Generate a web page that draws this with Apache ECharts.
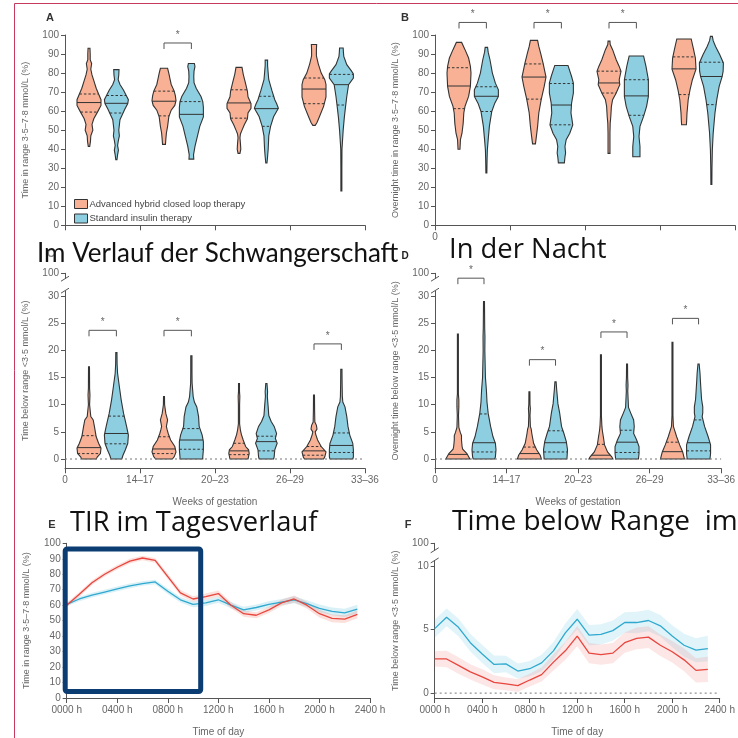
<!DOCTYPE html>
<html><head><meta charset="utf-8">
<script src="https://cdn.jsdelivr.net/npm/echarts@6/dist/echarts.min.js"></script>
<style>html,body{margin:0;padding:0;background:#fff}#c{width:738px;height:738px}</style>
</head><body><div id="c"></div>
<script>
// ---------- DATA ----------
const weekLabels = ['0','14–17','20–23','26–29','33–36'];
const groupNames = ['Advanced hybrid closed loop therapy','Standard insulin therapy'];
// violin profiles: [value, relative density]; quartiles [q1, median, q3]
const tirAHCL = [
 [[41.5,0.06],[44,0.12],[47,0.15],[50,0.32],[53,0.25],[56,0.4],[60,0.75],[63,1.0],[66,1.0],[69,0.8],[72,0.6],[76,0.4],[79,0.25],[82,0.15],[85,0.22],[87,0.1],[90,0.1],[93,0.08]],
 [[42.5,0.12],[45,0.15],[48.5,0.2],[52,0.3],[57,0.4],[60.5,0.6],[63,0.9],[65.5,1.0],[68,0.95],[70.5,0.85],[74,0.6],[77,0.5],[80,0.4],[82.5,0.3]],
 [[37.8,0.08],[40,0.15],[43,0.12],[46,0.08],[48,0.12],[50,0.25],[53,0.45],[56,0.7],[59,0.75],[61.5,1.0],[64,1.0],[67.5,0.75],[70.5,0.7],[74.5,0.55],[79.5,0.35],[83,0.25]],
 [[52.5,0.1],[54,0.25],[57,0.45],[62.5,0.8],[67.5,1.0],[74,1.0],[76.5,0.9],[80,0.6],[85,0.35],[89,0.2],[92,0.2],[95,0.22]]
];
const tirAHCLQ = [[59.5,64.5,69],[57.5,65.2,70.5],[56.3,64.3,71.2],[63.9,71.6,77.4]];
const tirStd = [
 [[34.5,0.05],[37,0.1],[39.5,0.17],[42,0.1],[45,0.18],[47,0.25],[50,0.2],[55.5,0.3],[61,0.7],[64,0.95],[66,1.0],[68.5,0.8],[71,0.6],[74,0.3],[76.5,0.15],[79,0.2],[81.8,0.22]],
 [[34.8,0.2],[37,0.18],[41.5,0.3],[46.7,0.5],[52,0.7],[57,1.0],[62,1.0],[65,0.95],[67.7,0.8],[72,0.4],[75,0.22],[78,0.2],[81,0.22],[83.5,0.3],[85,0.25]],
 [[32.7,0.05],[36,0.1],[40,0.15],[44,0.18],[47,0.2],[52,0.35],[57,0.6],[61.5,1.0],[64,0.85],[66,0.7],[71,0.45],[76.5,0.2],[80,0.15],[84,0.1],[86.8,0.1]],
 [[18,0.04],[30,0.04],[40,0.05],[43,0.08],[50,0.15],[57,0.25],[62.5,0.35],[67.7,0.45],[73.9,0.6],[77.4,1.0],[79.5,1.0],[81,0.85],[84.4,0.45],[88.8,0.2],[91,0.17],[93.2,0.15]]
];
const tirStdQ = [[59,64.1,68.2],[null,58.3,65],[52,61.3,67.8],[63.2,73.9,79.3]];

const nightTirAHCL = [
 [[40,0.08],[45,0.12],[48.4,0.25],[53.7,0.35],[59,0.4],[62.5,0.5],[67.7,0.8],[73,0.95],[80,1.0],[83.5,0.95],[87.9,0.8],[92.3,0.5],[96.1,0.22]],
 [[42.8,0.12],[46.7,0.2],[52,0.3],[59,0.4],[66,0.6],[73,0.85],[77.9,1.0],[80.9,0.9],[85.3,0.75],[90.5,0.55],[94,0.4],[97.2,0.3]],
 [[37.8,0.08],[48.4,0.08],[53.7,0.1],[57.2,0.15],[62.5,0.2],[66,0.3],[69.5,0.6],[73.9,0.9],[76.5,0.85],[80.9,1.0],[83.5,0.85],[87,0.6],[92.3,0.3],[95,0.1],[96.8,0.08]],
 [[52.8,0.2],[55,0.22],[59,0.25],[66,0.35],[71.2,0.5],[76.5,0.7],[82.1,1.0],[87.9,0.95],[92.3,0.8],[97.9,0.6]]
];
const nightTirAHCLQ = [[61.3,73.2,82.8],[66.3,77.9,84.8],[69.5,74.8,81],[68.7,82.2,88.5]];
const nightTirStd = [
 [[27.5,0.04],[32,0.05],[35,0.06],[39.6,0.08],[45,0.15],[52,0.25],[59.8,0.45],[64.2,0.7],[67.7,1.0],[71.2,1.0],[74.7,0.75],[80,0.5],[87,0.3],[91,0.15],[93.5,0.1]],
 [[32.8,0.25],[36,0.3],[38,0.35],[41.4,0.3],[45,0.4],[48.4,0.7],[52.8,0.95],[57,0.85],[59,0.8],[64.2,0.85],[69.5,1.0],[74.7,1.0],[78.2,0.85],[84,0.55]],
 [[36,0.3],[41.4,0.3],[46.7,0.22],[52,0.3],[57.2,0.6],[62.5,0.85],[67.7,1.0],[76.5,1.0],[83.5,0.8],[89,0.6]],
 [[21.5,0.04],[30,0.05],[39.6,0.08],[48.4,0.15],[59,0.3],[66,0.45],[73,0.65],[78.2,0.9],[81,0.98],[85.3,1.0],[89.6,0.7],[94,0.35],[97,0.15],[99.3,0.08]]
];
const nightTirStdQ = [[59.8,67.8,72.8],[52.8,63.2,74.5],[57.8,68,76.5],[63.4,78.2,85.7]];

const tbrAHCL = [
 [[0,0.6],[0.4,0.7],[1,0.95],[2,1.0],[2.9,0.8],[4.1,0.6],[6,0.45],[7.2,0.35],[7.8,0.15],[10,0.05],[11.8,0.08],[13,0.05],[17,0.04]],
 [[0,0.7],[0.4,0.85],[1.3,1.0],[2.3,0.9],[3.5,0.55],[4.7,0.35],[5.5,0.25],[6,0.2],[7.2,0.3],[8.4,0.15],[9.5,0.08],[10,0.05],[11.5,0.04]],
 [[0,0.75],[1,0.85],[1.7,0.8],[2.3,0.55],[3.5,0.35],[4.5,0.2],[5.3,0.12],[6.5,0.05],[10,0.05],[11.5,0.07],[12.5,0.04],[13.9,0.04]],
 [[0,0.8],[0.4,0.9],[1.3,1.0],[2.3,0.6],[3.5,0.3],[4.5,0.15],[5,0.1],[5.5,0.25],[6.2,0.2],[6.8,0.07],[9,0.05],[11.8,0.04]]
];
const tbrAHCLQ = [[1.0,2.1,4.3],[1.0,1.85,4.1],[0.8,1.5,2.9],[0.7,1.5,2.3]];
const tbrStd = [
 [[0,0.45],[0.7,0.55],[1.7,0.75],[2.9,0.95],[4.4,1.0],[6,0.85],[8.4,0.6],[10.9,0.4],[13.3,0.25],[15.8,0.1],[17.5,0.06],[19.6,0.05]],
 [[0,0.95],[0.4,0.95],[1.7,1.0],[3.2,1.0],[4.4,0.9],[6,0.65],[7.8,0.6],[9.6,0.45],[10.5,0.25],[11.5,0.15],[14,0.06],[16,0.05],[19,0.05]],
 [[0,0.6],[0.4,0.65],[1.7,0.7],[2.9,0.9],[3.8,0.75],[4.7,0.85],[6,0.65],[6.9,0.4],[8,0.2],[9.6,0.15],[11.5,0.08],[12.4,0.1],[13,0.08],[13.9,0.05]],
 [[0,0.95],[0.4,1.0],[1.7,1.0],[2.9,0.95],[4.4,0.7],[6,0.55],[7.8,0.45],[9.6,0.3],[10.5,0.12],[11.5,0.08],[14,0.06],[16.5,0.05]]
];
const tbrStdQ = [[2.8,4.7,7.9],[1.8,3.5,5.6],[1.5,3.2,4.2],[1.2,2.5,4.8]];

const nightTbrAHCL = [
 [[0,1.0],[0.4,0.9],[1,0.75],[1.8,0.4],[2.3,0.35],[3.5,0.3],[4.3,0.3],[4.9,0.2],[5.8,0.08],[8,0.05],[9.6,0.08],[10.9,0.08],[12,0.04],[23,0.04]],
 [[0,1.0],[0.7,0.9],[1.7,0.6],[2.9,0.35],[4.7,0.2],[5.5,0.15],[6,0.08],[8,0.05],[9.3,0.08],[10,0.05],[12.4,0.04]],
 [[0,1.0],[0.4,0.9],[1.3,0.55],[2.6,0.3],[4.1,0.2],[5.2,0.12],[6,0.08],[8,0.04],[19.2,0.04]],
 [[0,1.0],[1.3,0.85],[2.6,0.6],[4.1,0.35],[5.5,0.15],[6,0.08],[8,0.04],[21.5,0.04]]
];
const nightTbrAHCLQ = [[null,0.85,null],[null,1.0,2.2],[null,0.7,2.7],[null,1.35,3.1]];
const nightTbrStd = [
 [[0,0.9],[0.4,0.95],[1.7,1.0],[2.9,0.95],[4.1,0.75],[6,0.55],[8.4,0.35],[10.5,0.25],[12.7,0.2],[15,0.12],[17,0.1],[20,0.07],[22.5,0.08],[24,0.06],[29,0.04]],
 [[0,0.95],[1.7,1.0],[3.2,0.9],[4.7,0.7],[6,0.5],[8.4,0.35],[10.2,0.2],[12.7,0.1],[14.2,0.05]],
 [[0,0.95],[1,1.0],[2.3,1.0],[3.5,0.8],[4.7,0.55],[6,0.6],[7.2,0.55],[8.5,0.3],[9.5,0.12],[10.5,0.1],[12.5,0.06],[13.6,0.08],[15,0.05],[17.5,0.04]],
 [[0,0.95],[1,1.0],[2.6,1.0],[4.1,0.8],[6,0.5],[7.8,0.3],[8.5,0.35],[9.6,0.35],[11,0.25],[12.7,0.2],[14.5,0.15],[15.8,0.12],[17.5,0.05]]
];
const nightTbrStdQ = [[1.3,3.0,8.3],[1.3,3.0,5.2],[1.2,3.1,5.3],[1.5,3.0,7.2]];

// significance brackets: [group index, value]
const sigA = [[1,95.8]];
const sigB = [[0,106.6],[1,106.6],[2,106.6]];
const sigC = [[0,23.7],[1,23.7],[3,21.2]];
const sigD = [[0,33.3],[1,18.3],[2,23.4],[3,25.9]];

// time of day
const hours = [0,1,2,3,4,5,6,7,8,9,10,11,12,13,14,15,16,17,18,19,20,21,22,23];
const tirDayAHCL = [60,67,74.5,80,84.5,88.5,90.5,89,78.5,68,64,65.5,67.5,60,54.5,53.5,57,61.5,64,60,54.5,51.5,51,54];
const tirDayAHCLci = [1.5,1.5,1.5,1.5,1.5,1.5,1.5,1.5,1.8,1.8,1.8,2,2,2,2,2,2,2,2.2,2.2,2.5,2.5,2.5,2.5];
const tirDayStd = [60.5,64,66.5,68.5,70.5,72.5,74,75,69,63.5,60.5,61.5,63.5,60,57,58.5,60.5,62,63.5,61,58,56,55,57.5];
const tirDayStdci = [1.2,1.5,1.5,1.5,1.5,1.5,1.5,1.5,1.8,1.8,1.8,2,2,2,2,2,2,2,2.2,2.2,2.5,2.5,2.7,2.8];
const tbrDayAHCL = [2.69,2.69,2.18,1.67,1.28,0.85,0.72,0.59,1.03,1.46,2.44,3.33,4.49,3.15,3.03,3.15,3.97,4.31,4.41,3.77,3.26,2.62,1.79,1.87];
const tbrDayAHCLci = [0.6,0.65,0.65,0.6,0.6,0.55,0.5,0.5,0.5,0.55,0.65,0.7,0.8,0.8,0.8,0.8,0.8,0.85,0.85,0.85,0.85,0.9,0.95,1.0];
const tbrDayStd = [5.08,5.97,5.18,3.97,3.08,2.26,2.3,1.74,1.92,2.38,3.33,4.74,5.82,4.56,4.62,4.92,5.56,5.56,5.72,5.3,4.49,3.77,3.38,3.51];
const tbrDayStdci = [0.7,0.7,0.7,0.7,0.7,0.7,0.65,0.6,0.6,0.65,0.7,0.75,0.8,0.8,0.8,0.8,0.8,0.85,0.85,0.85,0.85,0.9,0.95,1.0];

// ---------- STYLE ----------
const ORANGE = '#f8b195', BLUE = '#8dcfe1', OUT = '#333';
const RED_LINE = '#e8463e', BLUE_LINE = '#2fa9cf';
const HW = 12, OFF_O = -0.18, OFF_B = 0.185;
const FONT = '"Liberation Sans", Arial, sans-serif';
const AX = '#555', LAB = '#666';

function dens(prof, v){
  if (v <= prof[0][0]) return prof[0][1];
  for (let k=1;k<prof.length;k++){
    if (v <= prof[k][0]){ const a=prof[k-1], b=prof[k]; return a[1]+(b[1]-a[1])*(v-a[0])/(b[0]-a[0]); }
  }
  return prof[prof.length-1][1];
}
function violin(name, ai, profiles, quarts, off, color){
  return {type:'custom', name, xAxisIndex:ai, yAxisIndex:ai, z:3, clip:false,
    itemStyle:{color, borderColor:OUT},
    data: profiles.map((p,i)=>[i+0.5+off, quarts[i][1]]),
    renderItem:(params, api)=>{
      const i = params.dataIndex, prof = profiles[i], cx = i+0.5+off;
      const right=[], left=[];
      prof.forEach(([v,d])=>{ const p=api.coord([cx,v]); right.push([p[0]+d*HW,p[1]]); left.unshift([p[0]-d*HW,p[1]]); });
      const ch=[{type:'polygon', shape:{points:right.concat(left)}, style:{fill:color, stroke:OUT, lineWidth:1.1}}];
      quarts[i].forEach((q,k)=>{ if(q==null) return; const d=dens(prof,q)*HW; const p=api.coord([cx,q]);
        ch.push({type:'line', shape:{x1:p[0]-d,y1:p[1],x2:p[0]+d,y2:p[1]}, style:{stroke:'#333', lineWidth:1, lineDash: k===1?null:[2.5,2]}}); });
      return {type:'group', children:ch};
    }};
}
function brackets(ai, sig){
  return {type:'custom', xAxisIndex:ai, yAxisIndex:ai, z:4, clip:false, silent:true,
    data: sig.map(s=>[s[0]+0.5, s[1]]),
    renderItem:(params, api)=>{
      const s = sig[params.dataIndex];
      const pl = api.coord([s[0]+0.5+OFF_O, s[1]]), pr = api.coord([s[0]+0.5+OFF_B, s[1]]);
      return {type:'group', children:[
        {type:'polyline', shape:{points:[[pl[0],pl[1]+6],[pl[0],pl[1]],[pr[0],pr[1]],[pr[0],pr[1]+6]]}, style:{stroke:'#555', lineWidth:1, fill:null}},
        {type:'text', style:{text:'*', x:(pl[0]+pr[0])/2, y:pl[1]-3, textAlign:'center', textVerticalAlign:'bottom', font:'10px '+FONT, fill:'#666'}}
      ]};
    }};
}
function decor(ai, xmin, xmax, b1, b2, zeroLine){
  return {type:'custom', xAxisIndex:ai, yAxisIndex:ai, z:5, clip:false, silent:true,
    data:[[xmin,0]],
    renderItem:(params, api)=>{
      const ch=[];
      if (zeroLine){ const a=api.coord([xmin,0]), b=api.coord([xmax,0]);
        ch.push({type:'line', shape:{x1:a[0],y1:a[1],x2:b[0],y2:b[1]}, style:{stroke:'#777', lineWidth:1, lineDash:[2,3]}}); }
      if (b1!=null){ const p1=api.coord([xmin,b1]), p2=api.coord([xmin,b2]);
        ch.push({type:'rect', shape:{x:p1[0]-3, y:p2[1], width:6, height:p1[1]-p2[1]}, style:{fill:'#fff'}});
        ch.push({type:'line', shape:{x1:p1[0]-4,y1:p1[1]+2.5,x2:p1[0]+4,y2:p1[1]-2.5}, style:{stroke:AX, lineWidth:1}});
        ch.push({type:'line', shape:{x1:p2[0]-4,y1:p2[1]+2.5,x2:p2[0]+4,y2:p2[1]-2.5}, style:{stroke:AX, lineWidth:1}});
      }
      return {type:'group', children:ch};
    }};
}
function band(ai, xs, ys, ci, color){
  return {type:'custom', xAxisIndex:ai, yAxisIndex:ai, z:2, silent:true,
    data:[[xs[0], ys[0]]],
    renderItem:(params, api)=>{
      const up = xs.map((x,i)=>api.coord([x, ys[i]+ci[i]]));
      const lo = xs.map((x,i)=>api.coord([x, ys[i]-ci[i]])).reverse();
      return {type:'polygon', shape:{points:up.concat(lo)}, style:{fill:color}};
    }};
}
function line(ai, xs, ys, color){
  return {type:'line', xAxisIndex:ai, yAxisIndex:ai, z:3, silent:true, symbol:'none',
    data: xs.map((x,i)=>[x, ys[i]]), lineStyle:{color, width:1.3}};
}

const axisCommon = {
  axisLine:{show:true, onZero:false, lineStyle:{color:AX, width:1}},
  axisTick:{show:true, length:4, lineStyle:{color:AX}},
  splitLine:{show:false}
};
function yAx(gi, min, max, name, extra){
  return Object.assign({type:'value', gridIndex:gi, min, max, name, nameLocation:'middle', nameGap:35, nameRotate:90,
    nameTextStyle:{fontSize:9, color:LAB, fontFamily:FONT}}, JSON.parse(JSON.stringify(axisCommon)), extra || {},
    {axisLabel:Object.assign({color:LAB, fontSize:10, fontFamily:FONT, margin:6}, (extra&&extra.axisLabel)||{})});
}
function xAx(gi, min, max, interval, labelOpt, name){
  return Object.assign({type:'value', gridIndex:gi, min, max, interval, name:name||'', nameLocation:'middle', nameGap:29,
    nameTextStyle:{fontSize:10, color:LAB, fontFamily:FONT}}, JSON.parse(JSON.stringify(axisCommon)),
    {axisTick:{show:true, length:5, lineStyle:{color:AX}},
     axisLabel:Object.assign({color:LAB, fontSize:10, fontFamily:FONT, margin:7}, labelOpt)});
}
const hourFmt = v => String(v*100).padStart(4,'0') + ' h';
const cdTicks = [0,5,10,15,20,25,30,34.2];
const fTicks = [0,5,10,11.8];
const OVER = 'Lato, "Open Sans", sans-serif';
const OVER2 = '"Open Sans", Lato, sans-serif';

const chart = echarts.init(document.getElementById('c'), null, {renderer:'canvas'});
chart.setOption({
  animation:false,
  grid:[
    {left:65, top:35, width:300, height:190.3},
    {left:435, top:35, width:300, height:190.3},
    {left:65, top:273.3, width:300, height:195},
    {left:435, top:273.3, width:300, height:195},
    {left:66.7, top:543.3, width:303.3, height:159},
    {left:434.7, top:543.3, width:296.6, height:158.4}
  ],
  xAxis:[
    xAx(0,0,4,1,{show:false}),
    xAx(1,0,4,1,{formatter:v=> v===0?'0':''}),
    xAx(2,0,4,1,{formatter:v=>weekLabels[v]}, 'Weeks of gestation'),
    xAx(3,0,4,1,{formatter:v=>weekLabels[v]}, 'Weeks of gestation'),
    xAx(4,0,24,4,{formatter:hourFmt}, 'Time of day'),
    xAx(5,0,24,4,{formatter:hourFmt}, 'Time of day')
  ],
  yAxis:[
    yAx(0,0,100,'Time in range 3·5–7·8 mmol/L (%)',{interval:10}),
    yAx(1,0,100,'Overnight time in range 3·5–7·8 mmol/L (%)',{interval:10}),
    yAx(2,-1.71,34.2,'Time below range <3·5 mmol/L (%)',{axisTick:{show:true,length:4,lineStyle:{color:AX},customValues:cdTicks},
       axisLabel:{customValues:cdTicks, formatter:v=> v>31?'100':String(v)}}),
    yAx(3,-1.71,34.2,'Overnight time below range <3·5 mmol/L (%)',{axisTick:{show:true,length:4,lineStyle:{color:AX},customValues:cdTicks},
       axisLabel:{customValues:cdTicks, formatter:v=> v>31?'100':String(v)}}),
    yAx(4,0,100,'Time in range 3·5–7·8 mmol/L (%)',{interval:10, nameGap:36}),
    yAx(5,-0.385,11.8,'Time below range <3·5 mmol/L (%)',{axisTick:{show:true,length:4,lineStyle:{color:AX},customValues:fTicks},
       axisLabel:{customValues:fTicks, formatter:v=> v>11?'100':String(v)}})
  ],
  legend:{left:69, top:194, orient:'vertical', itemWidth:13, itemHeight:9, itemGap:4.5, icon:'rect',
    textStyle:{fontSize:9.5, color:'#444', fontFamily:FONT, padding:[0,0,0,-3]},
    data:[{name:groupNames[0], itemStyle:{color:ORANGE, borderColor:'#333', borderWidth:1}},
          {name:groupNames[1], itemStyle:{color:BLUE, borderColor:'#333', borderWidth:1}}]},
  series:[
    violin(groupNames[0],0,tirAHCL,tirAHCLQ,OFF_O,ORANGE),
    violin(groupNames[1],0,tirStd,tirStdQ,OFF_B,BLUE),
    violin(groupNames[0],1,nightTirAHCL,nightTirAHCLQ,OFF_O,ORANGE),
    violin(groupNames[1],1,nightTirStd,nightTirStdQ,OFF_B,BLUE),
    violin(groupNames[0],2,tbrAHCL,tbrAHCLQ,OFF_O,ORANGE),
    violin(groupNames[1],2,tbrStd,tbrStdQ,OFF_B,BLUE),
    violin(groupNames[0],3,nightTbrAHCL,nightTbrAHCLQ,OFF_O,ORANGE),
    violin(groupNames[1],3,nightTbrStd,nightTbrStdQ,OFF_B,BLUE),
    brackets(0,sigA), brackets(1,sigB), brackets(2,sigC), brackets(3,sigD),
    decor(2,0,4,31.0,33.2,true), decor(3,0,4,31.0,33.2,true), decor(5,0,24,10.45,11.25,true),
    band(4,hours,tirDayStd,tirDayStdci,'rgba(120,200,225,0.28)'),
    band(4,hours,tirDayAHCL,tirDayAHCLci,'rgba(240,130,115,0.25)'),
    line(4,hours,tirDayStd,BLUE_LINE), line(4,hours,tirDayAHCL,RED_LINE),
    band(5,hours,tbrDayStd,tbrDayStdci,'rgba(120,205,228,0.22)'),
    band(5,hours,tbrDayAHCL,tbrDayAHCLci,'rgba(240,130,130,0.2)'),
    line(5,hours,tbrDayStd,BLUE_LINE), line(5,hours,tbrDayAHCL,RED_LINE)
  ],
  graphic:[
    {type:'line', z:100, shape:{x1:14.5,y1:3.5,x2:738,y2:3.5}, style:{stroke:'#c73a5f', lineWidth:1}},
    {type:'line', z:100, shape:{x1:14.5,y1:3.5,x2:14.5,y2:738}, style:{stroke:'#c73a5f', lineWidth:1}},
    {type:'text', z:100, style:{text:'A', x:50, y:18, textAlign:'center', textVerticalAlign:'middle', font:'bold 11px '+FONT, fill:'#333'}},
    {type:'text', z:100, style:{text:'B', x:405, y:18, textAlign:'center', textVerticalAlign:'middle', font:'bold 11px '+FONT, fill:'#333'}},
    {type:'text', z:100, style:{text:'C', x:51, y:254, textAlign:'center', textVerticalAlign:'middle', font:'bold 11px '+FONT, fill:'#888'}},
    {type:'text', z:100, style:{text:'D', x:405, y:256, textAlign:'center', textVerticalAlign:'middle', font:'bold 10px '+FONT, fill:'#222'}},
    {type:'text', z:100, style:{text:'E', x:52, y:525, textAlign:'center', textVerticalAlign:'middle', font:'bold 11px '+FONT, fill:'#333'}},
    {type:'text', z:100, style:{text:'F', x:408, y:525, textAlign:'center', textVerticalAlign:'middle', font:'bold 11px '+FONT, fill:'#333'}},
    {type:'text', z:101, style:{text:'Im Verlauf der Schwangerschaft', x:37, y:254, textVerticalAlign:'middle', font:'26px '+OVER, fill:'#111'}},
    {type:'text', z:101, style:{text:'In der Nacht', x:449, y:250, textVerticalAlign:'middle', font:'27.4px '+OVER2, fill:'#111'}},
    {type:'text', z:101, style:{text:'TIR im Tagesverlauf', x:70, y:523, textVerticalAlign:'middle', font:'27.3px '+OVER2, fill:'#111'}},
    {type:'text', z:101, style:{text:'Time below Range  im', x:452, y:522, textVerticalAlign:'middle', font:'28px '+OVER2, fill:'#111'}},
    {type:'rect', z:102, shape:{x:65.2, y:549, width:135.5, height:142.5, r:2}, style:{fill:null, stroke:'#0b3c72', lineWidth:5}}
  ]
});
</script></body></html>
